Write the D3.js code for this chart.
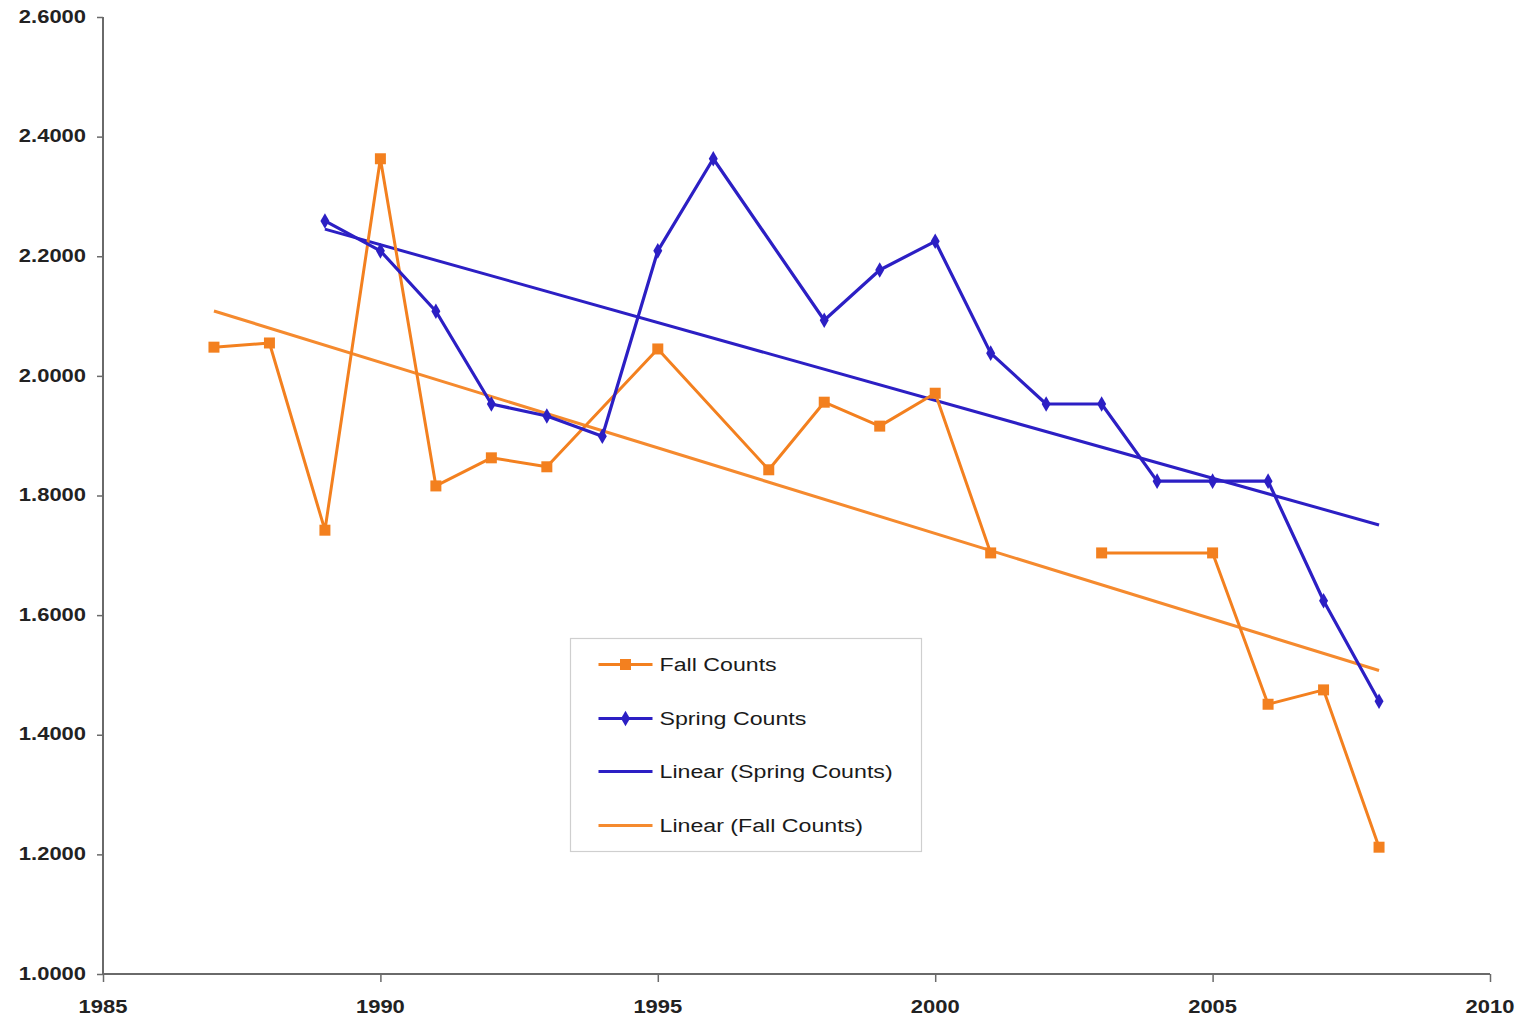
<!DOCTYPE html>
<html>
<head>
<meta charset="utf-8">
<script src="https://cdn.jsdelivr.net/npm/d3@7"></script>
<style>
  html, body { margin: 0; padding: 0; background: #fff; }
  svg { display: block; }
</style>
</head>
<body>
<svg id="chart" width="1529" height="1018"></svg>
<script>
// data
const fallYears = [1987, 1988, 1989, 1990, 1991, 1992, 1993, 1995, 1997, 1998, 1999, 2000, 2001, 2002, 2003, 2005, 2006, 2007, 2008];
const fallValues = [2.048, 2.055, 1.742, 2.363, 1.816, 1.863, 1.848, 2.045, 1.843, 1.956, 1.916, 1.971, 1.704, null, 1.704, 1.704, 1.451, 1.475, 1.212];
const springYears = [1989, 1990, 1991, 1992, 1993, 1994, 1995, 1996, 1998, 1999, 2000, 2001, 2002, 2003, 2004, 2005, 2006, 2007, 2008];
const springValues = [2.259, 2.209, 2.108, 1.953, 1.933, 1.899, 2.209, 2.363, 2.093, 2.177, 2.225, 2.038, 1.953, 1.953, 1.824, 1.824, 1.824, 1.624, 1.456];
const xTicks = [1985, 1990, 1995, 2000, 2005, 2010];
const yTicks = [1.0, 1.2, 1.4, 1.6, 1.8, 2.0, 2.2, 2.4, 2.6];
const legendLabels = ["Fall Counts", "Spring Counts", "Linear (Spring Counts)", "Linear (Fall Counts)"];

const ORANGE = "#f3801f";
const ORANGE_TREND = "#f58a2e";
const BLUE = "#2c1fc4";
const STRETCH = 1.22; // the source text is a bit wide

const svg = d3.select("#chart");
const x = d3.scaleLinear().domain([1985, 2010]).range([103, 1490]);
const y = d3.scaleLinear().domain([1.0, 2.6]).range([974, 17]);

const toPts = (xs, vs) => xs.map((yr, i) => ({ yr, v: vs[i] }));
const fall = toPts(fallYears, fallValues);
const spring = toPts(springYears, springValues);

// least squares trend, like excel's linear trendline
function trend(pts) {
  const p = pts.filter(d => d.v != null);
  const mx = d3.mean(p, d => d.yr), my = d3.mean(p, d => d.v);
  const sxy = d3.sum(p, d => (d.yr - mx) * (d.v - my));
  const sxx = d3.sum(p, d => (d.yr - mx) ** 2);
  const b = sxy / sxx, a = my - b * mx;
  const ext = d3.extent(p, d => d.yr);
  return ext.map(yr => ({ yr, v: a + b * yr }));
}

function stretchedText(g, px, py, str, opts) {
  return g.append("text")
    .attr("transform", `translate(${px},${py}) scale(${STRETCH},1)`)
    .attr("font-family", "Liberation Sans, Arial, sans-serif")
    .attr("font-size", opts.size)
    .attr("font-weight", opts.weight || "normal")
    .attr("fill", opts.fill || "#222")
    .attr("text-anchor", opts.anchor || "start")
    .attr("dominant-baseline", opts.baseline || "auto")
    .text(str);
}

// axes
const yAxis = d3.axisLeft(y).tickValues(yTicks).tickSize(6).tickFormat("");
const xAxis = d3.axisBottom(x).tickValues(xTicks).tickSize(8).tickFormat("");
const gy = svg.append("g").attr("transform", "translate(103,0)").call(yAxis);
const gx = svg.append("g").attr("transform", "translate(0,974)").call(xAxis);
[gy, gx].forEach(g => {
  g.select(".domain").attr("stroke", "#6a6a6a").attr("stroke-width", 2);
  g.selectAll(".tick line").attr("stroke", "#6a6a6a").attr("stroke-width", 1.5);
});
gy.select(".domain").attr("d", `M0,${y(2.6)}V${y(1.0)}`);
gx.select(".domain").attr("d", `M${x(1985)},0H${x(2010)}`);

const labels = svg.append("g");
yTicks.forEach(t => {
  stretchedText(labels, 86, y(t) + 1, d3.format(".4f")(t), { size: 18, weight: "bold", anchor: "end", baseline: "middle" });
});
xTicks.forEach(t => {
  stretchedText(labels, x(t), 1013, String(t), { size: 18, weight: "bold", anchor: "middle" });
});

// lines
const line = d3.line().defined(d => d.v != null).x(d => x(d.yr)).y(d => y(d.v));
const plot = svg.append("g");

plot.append("path").datum(trend(spring)).attr("d", line)
  .attr("fill", "none").attr("stroke", BLUE).attr("stroke-width", 3);
plot.append("path").datum(trend(fall)).attr("d", line)
  .attr("fill", "none").attr("stroke", ORANGE_TREND).attr("stroke-width", 3);

plot.append("path").datum(fall).attr("d", line)
  .attr("fill", "none").attr("stroke", ORANGE).attr("stroke-width", 3).attr("stroke-linejoin", "round");
plot.append("path").datum(spring).attr("d", line)
  .attr("fill", "none").attr("stroke", BLUE).attr("stroke-width", 3.2).attr("stroke-linejoin", "round");

const square = d3.symbol().type(d3.symbolSquare).size(121);
const diamond = d3.symbol().type(d3.symbolDiamond).size(70);

plot.selectAll("path.fall-pt").data(fall.filter(d => d.v != null)).enter()
  .append("path").attr("class", "fall-pt")
  .attr("transform", d => `translate(${x(d.yr)},${y(d.v)})`)
  .attr("d", square).attr("fill", ORANGE);
plot.selectAll("path.spring-pt").data(spring).enter()
  .append("path").attr("class", "spring-pt")
  .attr("transform", d => `translate(${x(d.yr)},${y(d.v)})`)
  .attr("d", diamond).attr("fill", BLUE);

// legend
const lg = svg.append("g").attr("transform", "translate(570.5,638.5)");
lg.append("rect").attr("width", 351).attr("height", 213)
  .attr("fill", "#fff").attr("stroke", "#cfcfcf").attr("stroke-width", 1.2);
const rowY = [26, 80, 133, 187];
const swatch = [
  { color: ORANGE, sym: square },
  { color: BLUE, sym: diamond },
  { color: BLUE, sym: null },
  { color: ORANGE_TREND, sym: null }
];
legendLabels.forEach((lab, i) => {
  const s = swatch[i];
  lg.append("line").attr("x1", 28).attr("x2", 82).attr("y1", rowY[i]).attr("y2", rowY[i])
    .attr("stroke", s.color).attr("stroke-width", 3);
  if (s.sym) {
    lg.append("path").attr("transform", `translate(55,${rowY[i]})`).attr("d", s.sym).attr("fill", s.color);
  }
  stretchedText(lg, 89, rowY[i] + 1, lab, { size: 19, anchor: "start", baseline: "middle", fill: "#1a1a1a" });
});
</script>
</body>
</html>
